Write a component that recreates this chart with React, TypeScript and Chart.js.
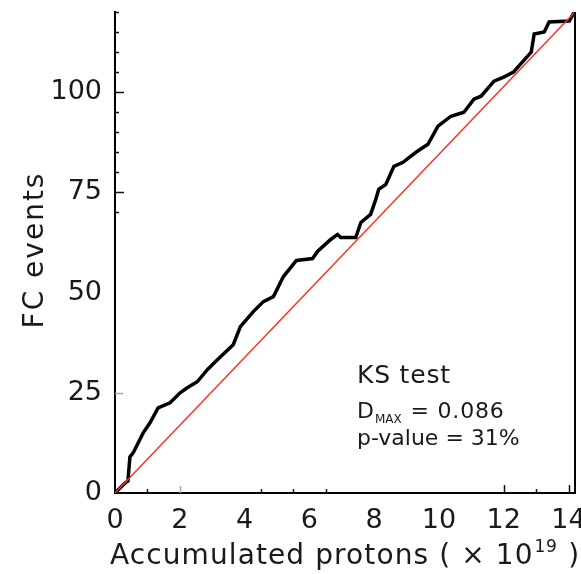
import React, { useEffect, useRef } from "react";
import { Chart, registerables } from "chart.js";

Chart.register(...registerables);

// Cumulative FC events vs accumulated protons (x 10^19)
const protonsX = [
  0, 0.31, 0.4, 0.46, 0.56, 0.87, 1.08, 1.33, 1.7, 2.01, 2.23, 2.54, 2.85, 3.16, 3.65,
  3.87, 4.27, 4.58, 4.89, 5.2, 5.6, 6.1, 6.25, 6.66, 6.87, 6.97, 7.43, 7.59, 7.89, 8.05,
  8.14, 8.36, 8.61, 8.89, 9.29, 9.66, 9.97, 10.37, 10.77, 11.08, 11.3, 11.7, 12.0, 12.3,
  12.6, 12.85, 12.94, 13.25, 13.4, 14.02, 14.18,
];
const fcEvents = [
  0, 2.5, 3, 9, 10, 15, 17.5, 21.25, 22.5, 25, 26.25, 27.75, 30.75, 33.25, 37,
  41.5, 45.25, 47.75, 49, 54, 58, 58.5, 60.25, 63.25, 64.5, 63.75, 63.75, 67.5, 69.5, 73.25,
  75.75, 77, 81.5, 82.5, 85, 87, 91.5, 94, 95, 98.25, 99, 102.75, 103.75, 105,
  107.75, 110, 114.5, 115, 117.5, 117.75, 120,
];

// Expected (uniform) distribution
const expectedX = [0, 14.2];
const expectedY = [0, 120];

// Axis ticks
const xTickLabels = [0, 2, 4, 6, 8, 10, 12, 14];
const yTickLabels = [0, 25, 50, 75, 100];
const xMajorMarks = [12, 14];
const xGreyMarks = [2];
const xMinorMarks = [1, 4.5, 5.5, 6.5, 13];
const yMajorMarks = [75, 100];
const yGreyMarks = [25];
const yMinorMarks = [70, 80, 85, 90, 95, 105, 110, 115, 120];

const FONT = '"DejaVu Sans", "Liberation Sans", sans-serif';

function spacedText(ctx: CanvasRenderingContext2D, text: string, x: number, y: number, spacing: number) {
  (ctx as any).letterSpacing = spacing + "px";
  ctx.fillText(text, x, y);
  const w = ctx.measureText(text).width;
  (ctx as any).letterSpacing = "0px";
  return w;
}

const zeroPad = (s: any) => {
  s.paddingLeft = 0;
  s.paddingRight = 0;
  s.paddingTop = 0;
  s.paddingBottom = 0;
};

const overlay = {
  id: "overlay",
  afterDraw(chart: any) {
    const { ctx, chartArea: a, scales } = chart;
    const xs = scales.x;
    const ys = scales.y;
    ctx.save();
    // right frame line
    ctx.strokeStyle = "#000";
    ctx.lineWidth = 2;
    ctx.beginPath();
    ctx.moveTo(a.right, a.top);
    ctx.lineTo(a.right, a.bottom + 1);
    ctx.stroke();

    const yMark = (v: number, len: number, color: string) => {
      const py = Math.round(ys.getPixelForValue(v)) + 0.5;
      ctx.strokeStyle = color;
      ctx.lineWidth = 1.5;
      ctx.beginPath();
      ctx.moveTo(a.left, py);
      ctx.lineTo(a.left + len, py);
      ctx.stroke();
    };
    const xMark = (v: number, len: number, color: string) => {
      const px = Math.round(xs.getPixelForValue(v)) + 0.5;
      ctx.strokeStyle = color;
      ctx.lineWidth = 1.5;
      ctx.beginPath();
      ctx.moveTo(px, a.bottom);
      ctx.lineTo(px, a.bottom - len);
      ctx.stroke();
    };
    yMajorMarks.forEach((v) => yMark(v, 9, "#111"));
    yGreyMarks.forEach((v) => yMark(v, 8, "#aaa"));
    yMinorMarks.forEach((v) => yMark(v, 4, "#111"));
    xMajorMarks.forEach((v) => xMark(v, 8, "#111"));
    xGreyMarks.forEach((v) => xMark(v, 7, "#aaa"));
    xMinorMarks.forEach((v) => xMark(v, 4, "#111"));

    ctx.fillStyle = "#1a1a1a";
    ctx.textAlign = "left";
    ctx.textBaseline = "alphabetic";

    // KS annotation
    ctx.font = `25px ${FONT}`;
    spacedText(ctx, "KS test", 357, 383, 0.8);
    ctx.font = `22px ${FONT}`;
    let w = spacedText(ctx, "D", 357, 418, 0);
    ctx.font = `12px ${FONT}`;
    const w2 = spacedText(ctx, "MAX", 357 + w + 1, 423, 0);
    ctx.font = `22px ${FONT}`;
    spacedText(ctx, " = 0.086", 357 + w + w2 + 2, 418, 0.8);
    spacedText(ctx, "p-value = 31%", 357, 445, 0);

    // x title
    ctx.font = `28px ${FONT}`;
    const t1 = "Accumulated protons ( \u00d7 10";
    const tw = spacedText(ctx, t1, 110, 564, 1.1);
    ctx.font = `17px ${FONT}`;
    const sw = spacedText(ctx, "19", 110 + tw + 1, 552, 0.5);
    ctx.font = `28px ${FONT}`;
    spacedText(ctx, " )", 110 + tw + sw + 2, 564, 1.1);

    // y title
    ctx.save();
    ctx.translate(43, 250);
    ctx.rotate(-Math.PI / 2);
    ctx.font = `28px ${FONT}`;
    ctx.textAlign = "center";
    spacedText(ctx, "FC events", 0, 0, 2);
    ctx.restore();

    ctx.restore();
  },
};

export default function App() {
  const ref = useRef<HTMLCanvasElement | null>(null);
  useEffect(() => {
    if (!ref.current) return;
    const chart = new Chart(ref.current, {
      type: "line",
      data: {
        datasets: [
          {
            label: "Expected",
            data: expectedX.map((x, i) => ({ x, y: expectedY[i] })),
            borderColor: "#ff2d1f",
            borderWidth: 1.5,
            pointRadius: 0,
            tension: 0,
            order: 0,
          },
          {
            label: "FC events",
            data: protonsX.map((x, i) => ({ x, y: fcEvents[i] })),
            borderColor: "#000",
            borderWidth: 3.5,
            pointRadius: 0,
            tension: 0,
            order: 1,
          },
        ],
      },
      options: {
        responsive: false,
        animation: false,
        devicePixelRatio: 1,
        layout: { padding: { top: 12, right: 6, left: 0, bottom: 0 } },
        plugins: { legend: { display: false }, tooltip: { enabled: false } },
        scales: {
          x: {
            type: "linear",
            min: 0,
            max: 14.2,
            afterFit: (s: any) => {
              s.height = 81;
              zeroPad(s);
            },
            afterBuildTicks: (s: any) => {
              s.ticks = xTickLabels.map((v) => ({ value: v }));
            },
            ticks: {
              font: { family: FONT, size: 27 },
              color: "#1a1a1a",
              padding: 12,
              maxRotation: 0,
              autoSkip: false,
            },
            grid: { display: false, drawTicks: false },
            border: { display: true, color: "#000", width: 2 },
          },
          y: {
            type: "linear",
            min: 0,
            max: 120,
            afterFit: (s: any) => {
              s.width = 115;
              zeroPad(s);
            },
            afterBuildTicks: (s: any) => {
              s.ticks = yTickLabels.map((v) => ({ value: v }));
            },
            ticks: {
              font: { family: FONT, size: 27 },
              color: "#1a1a1a",
              padding: 13,
              autoSkip: false,
            },
            grid: { display: false, drawTicks: false },
            border: { display: true, color: "#000", width: 2 },
          },
        },
      },
      plugins: [overlay],
    });
    return () => chart.destroy();
  }, []);
  return (
    <div style={{ position: "fixed", left: 0, top: 0, width: 581, height: 574, background: "#fff" }}>
      <canvas ref={ref} width={581} height={574} />
    </div>
  );
}
